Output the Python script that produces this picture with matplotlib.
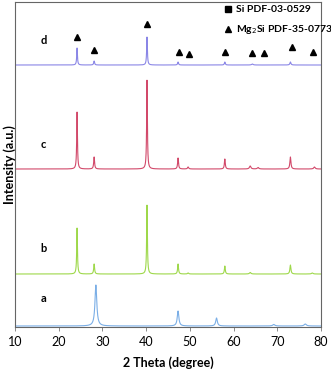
import numpy as np
import matplotlib.pyplot as plt

plt.rcParams['font.family'] = ['Lato', 'DejaVu Sans']

# peak tables: position (deg), height (offset units), half width (deg)
pos_a = [28.5, 47.3, 56.1, 69.2, 76.4]
hgt_a = [41, 15, 8, 1.5, 2]
wid_a = [0.25, 0.22, 0.22, 0.3, 0.3]

pos_b = [24.2, 28.1, 40.2, 47.3, 49.6, 58.0, 63.8, 73.0, 78.0]
hgt_b = [46, 10, 69, 10, 1, 8, 1.5, 9, 1]
wid_b = [0.1, 0.12, 0.1, 0.12, 0.15, 0.12, 0.2, 0.14, 0.2]

pos_c = [24.2, 28.1, 40.2, 47.3, 49.6, 58.0, 63.8, 65.6, 73.0, 78.5]
hgt_c = [57, 12, 89, 11, 2, 10, 3, 1.5, 12, 2]
wid_c = [0.1, 0.12, 0.1, 0.12, 0.15, 0.12, 0.2, 0.2, 0.14, 0.2]

pos_d = [24.2, 28.1, 40.2, 47.3, 58.0, 64.3, 73.0]
hgt_d = [17, 4, 28, 3, 3, 1, 3]
wid_d = [0.1, 0.12, 0.1, 0.12, 0.12, 0.2, 0.14]

baselines = {'a': 1, 'b': 53, 'c': 158, 'd': 262}
colors = {'a': '#7aaee6', 'b': '#9ed84a', 'c': '#d2496a', 'd': '#8a86e6'}

# Mg2Si reflection markers (position, height)
tri_x = [24.2, 28.1, 40.2, 47.5, 49.8, 58.0, 64.3, 66.9, 73.4, 78.2]
tri_y = [290, 277, 303, 275, 273, 275, 274, 274, 280, 275]


def pattern(tt, pos, hgt, wid):
    y = np.zeros_like(tt)
    for p, h, w in zip(pos, hgt, wid):
        y += h / (1 + ((tt - p) / w) ** 2)
    return y


tt = np.linspace(10, 80, 4000)
fig = plt.figure(figsize=(3.31, 3.74), dpi=100)
ax = fig.add_axes([15 / 331, 47 / 374, 306 / 331, 325 / 374])

data = {'a': (pos_a, hgt_a, wid_a), 'b': (pos_b, hgt_b, wid_b),
        'c': (pos_c, hgt_c, wid_c), 'd': (pos_d, hgt_d, wid_d)}
label_y = {'a': 28, 'b': 79, 'c': 182, 'd': 286}
for k, (p, h, w) in data.items():
    ax.plot(tt, baselines[k] + pattern(tt, p, h, w), color=colors[k], lw=0.8)
    ax.text(16.5, label_y[k], k, fontsize=8, fontweight='bold', ha='center', va='center')

ax.plot(tri_x, tri_y, '^', color='black', ms=5, ls='none')

# legend drawn by hand as in the original
ax.plot([58.8], [318], 's', color='black', ms=4.5, clip_on=False)
ax.text(60.5, 318, 'Si PDF-03-0529', fontsize=7.5, fontweight='bold', va='center')
ax.plot([58.8], [298], '^', color='black', ms=5, clip_on=False)
ax.text(60.5, 298, 'Mg$_2$Si PDF-35-0773', fontsize=7.5, fontweight='bold', va='center', clip_on=False)

ax.set_xlim(10, 80)
ax.set_ylim(0, 325)
ax.set_xticks(range(10, 81, 10))
ax.set_yticks([])
ax.tick_params(axis='x', labelsize=9, length=3, width=0.6, color='#777777')
for s in ax.spines.values():
    s.set_color('#666666')
    s.set_linewidth(0.8)
ax.set_xlabel('2 Theta (degree)', fontsize=9, fontweight='bold', labelpad=6)
ax.set_ylabel('Intensity (a.u.)', fontsize=9, fontweight='bold', labelpad=-1)

fig.savefig('out.png', dpi=100)
